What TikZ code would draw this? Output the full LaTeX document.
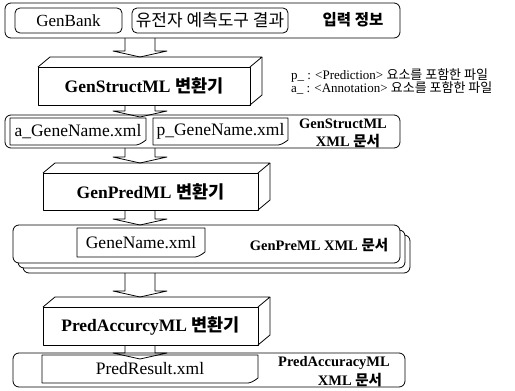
\documentclass[tikz,border=0pt]{standalone}
\usepackage{fontspec}
\setmainfont{Liberation Serif}
\newfontfamily\kr{Noto Sans CJK KR}
\usetikzlibrary{calc}

\tikzset{
  x=1pt, y=-1pt,
  every node/.style={inner sep=0pt, outer sep=0pt},
  line/.style={line width=0.8pt, line join=round},
  grp/.style={line, draw, rounded corners=6pt},
  srcbox/.style={line, draw, rounded corners=5pt, font=\fontsize{17}{20}\selectfont},
  face/.style={line, draw, font=\bfseries\fontsize{17.5}{20}\selectfont},
  docnode/.style={font=\fontsize{17.5}{20}\selectfont},
  lbl/.style={font=\bfseries\fontsize{14.5}{17}\selectfont},
  note/.style={anchor=west, font=\fontsize{13}{14}\selectfont},
}

% hollow block arrow pointing down: shaft from #1, tip at #2
\newcommand\flowarrow[2]{%
  \draw[line] let \p1=(#1), \p2=(#2) in
    (\x1-15pt,\y1) -- (\x1-15pt,\y2+6pt) -- (\x1-27pt,\y2+6pt) -- (\x1,\y2)
    -- (\x1+27pt,\y2+6pt) -- (\x1+15pt,\y2+6pt) -- (\x1+15pt,\y1);
}
% document outline with a curled lower right corner
\newcommand\docoutline[1]{%
  \draw[line] (#1.north west) -- (#1.north east) -- ($(#1.south east)+(0,-5)$)
    .. controls ($(#1.south east)+(-4,-2)$) and ($(#1.south east)+(-8,1)$) .. ($(#1.south east)+(-14,0)$)
    -- (#1.south west) -- cycle;
}
% top and side faces of a converter block
\newcommand\blockdepth[1]{%
  \draw[line] (#1.north west) -- ++(12,-10) -- ($(#1.north east)+(12,-10)$) -- (#1.north east);
  \draw[line] ($(#1.north east)+(12,-10)$) -- ($(#1.south east)+(12,-10)$) -- (#1.south east);
}

\begin{document}
\begin{tikzpicture}
\useasboundingbox (0,0) rectangle (515,391);
\coordinate (ax) at (140,0);

% input information
\node[grp, minimum width=395pt, minimum height=35pt] (g1) at (202.5,20.5) {};
\node[srcbox, minimum width=107pt, minimum height=25pt] (gb) at (68.5,20.5) {GenBank};
\node[srcbox, minimum width=156pt, minimum height=25pt] (tools) at (210,20.5) {\kr 유전자 예측도구 결과};
\node[font=\kr\bfseries\fontsize{15.5}{17}\selectfont] (inp) at (353,20) {입력 정보};

% GenStructML converter
\node[face, minimum width=212pt, minimum height=38pt] (b1) at (144,86) {GenStructML {\kr 변환기}};
\blockdepth{b1}
\coordinate (b1top) at ($(b1.north)+(0,-10)$);

\node[note] (n1) at (291,75) {p\_ : <Prediction> {\kr 요소를 포함한 파일}};
\node[note] (n2) at (291,88) {a\_ : <Annotation> {\kr 요소를 포함한 파일}};

% GenStructML XML documents
\node[grp, minimum width=395pt, minimum height=33pt] (g2) at (202.5,131.5) {};
\node[docnode, minimum width=136pt, minimum height=27pt] (da) at (78,131.5) {a\_GeneName.xml};
\docoutline{da}
\node[docnode, minimum width=135pt, minimum height=27pt] (dp) at (220.5,131.5) {p\_GeneName.xml};
\docoutline{dp}
\node[lbl] (l2a) at (343,124) {GenStructML};
\node[lbl] (l2b) at (348,141) {XML {\kr 문서}};

% GenPredML converter
\node[face, minimum width=215pt, minimum height=37pt] (b2) at (150.5,191.5) {GenPredML {\kr 변환기}};
\blockdepth{b2}
\coordinate (b2top) at ($(b2.north)+(0,-10)$);

% GenPreML XML documents (stack)
\node[grp, fill=white, minimum width=387pt, minimum height=38pt] (g3c) at (216.5,254) {};
\node[grp, fill=white, minimum width=387pt, minimum height=38pt] (g3b) at (211.5,249) {};
\node[grp, fill=white, minimum width=387pt, minimum height=38pt] (g3) at (206.5,244) {};
\node[docnode, minimum width=128pt, minimum height=29pt] (dg) at (141,242.5) {GeneName.xml};
\docoutline{dg}
\node[lbl] (l3) at (319,245) {GenPreML XML {\kr 문서}};

% PredAccurcyML converter
\node[face, minimum width=215pt, minimum height=38pt] (b3) at (150.5,326) {PredAccurcyML {\kr 변환기}};
\blockdepth{b3}
\coordinate (b3top) at ($(b3.north)+(0,-10)$);

% PredAccuracyML XML document
\node[grp, minimum width=392pt, minimum height=34pt] (g4) at (209,370) {};
\node[docnode, minimum width=216pt, minimum height=28pt] (pr) at (150,369) {PredResult.xml};
\docoutline{pr}
\node[lbl] (l4a) at (334,363) {PredAccuracyML};
\node[lbl] (l4b) at (350,380) {XML {\kr 문서}};

% flow between stages
\flowarrow{g1.south -| ax}{b1top -| ax}
\flowarrow{b1.south -| ax}{$(g2.north -| ax)+(0,2)$}
\flowarrow{g2.south -| ax}{b2top -| ax}
\flowarrow{b2.south -| ax}{g3.north -| ax}
\flowarrow{g3c.south -| ax}{b3top -| ax}
\flowarrow{b3.south -| ax}{$(pr.north -| ax)+(0,4)$}
\end{tikzpicture}
\end{document}
